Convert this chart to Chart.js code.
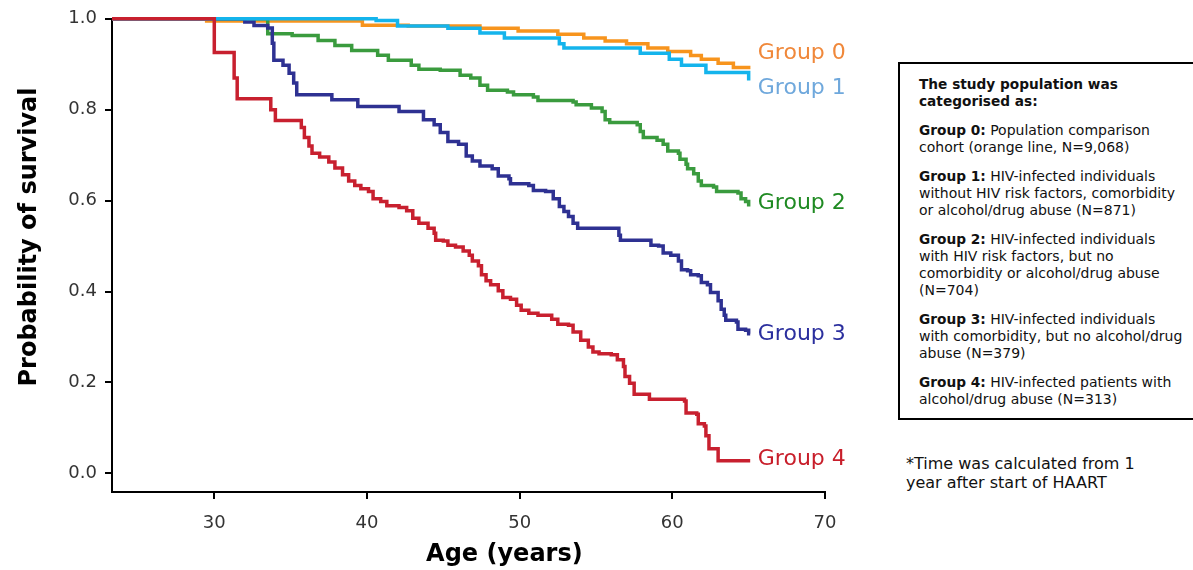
<!DOCTYPE html>
<html>
<head>
<meta charset="utf-8">
<script src="https://cdn.jsdelivr.net/npm/chart.js@4.4.1/dist/chart.umd.min.js"></script>
<style>
  html, body { margin: 0; padding: 0; background: #fff; }
  body { width: 1193px; height: 570px; position: relative; overflow: hidden; font-family: "DejaVu Sans", Verdana, sans-serif; }
  #chartWrap { position: absolute; left: 0; top: 0; width: 880px; height: 570px; }
  .key {
    position: absolute; left: 898px; top: 62px; width: 330px; height: 358px;
    border: 2px solid #000; box-sizing: border-box; padding: 12px 0 0 19px;
    font-size: 14px; line-height: 17px; color: #111; white-space: nowrap;
  }
  .key p { margin: 0 0 12px 0; }
  .key b { font-weight: bold; font-size: 13.7px; }
  .note { position: absolute; left: 906px; top: 454px; font-size: 16px; line-height: 19px; color: #111; white-space: nowrap; }
</style>
</head>
<body>
<div id="chartWrap"><canvas id="kmChart" width="880" height="570"></canvas></div>

<div class="key">
  <p><b>The study population was<br>categorised as:</b></p>
  <p><b>Group 0:</b> Population comparison<br>cohort (orange line, N=9,068)</p>
  <p><b>Group 1:</b> HIV-infected individuals<br>without HIV risk factors, comorbidity<br>or alcohol/drug abuse (N=871)</p>
  <p><b>Group 2:</b> HIV-infected individuals<br>with HIV risk factors, but no<br>comorbidity or alcohol/drug abuse<br>(N=704)</p>
  <p><b>Group 3:</b> HIV-infected individuals<br>with comorbidity, but no alcohol/drug<br>abuse (N=379)</p>
  <p><b>Group 4:</b> HIV-infected patients with<br>alcohol/drug abuse (N=313)</p>
</div>
<div class="note">*Time was calculated from 1<br>year after start of HAART</div>

<script>
// Datos (edad en años, probabilidad de supervivencia)
const groupNames = ['Group 0', 'Group 1', 'Group 2', 'Group 3', 'Group 4'];

const group0Age  = [23.3, 29.5, 39.7, 42.7, 47.4, 49.9, 52.5, 54.2, 55.6, 57.0, 58.4, 59.7, 61.2, 61.9, 63.0, 64.0, 65.0];
const group0Surv = [1.0, 0.995, 0.986, 0.984, 0.979, 0.973, 0.966, 0.958, 0.951, 0.945, 0.936, 0.928, 0.919, 0.911, 0.902, 0.893, 0.889];

const group1Age  = [23.3, 40.6, 42.0, 45.3, 47.4, 49.0, 52.6, 52.9, 57.9, 59.8, 60.6, 62.2, 65.0];
const group1Surv = [1.0, 0.996, 0.984, 0.979, 0.969, 0.958, 0.945, 0.936, 0.924, 0.911, 0.898, 0.882, 0.864];

const group2Age  = [23.3, 33.5, 35.1, 36.8, 37.9, 39.0, 40.7, 41.4, 42.9, 43.4, 44.8, 46.1, 46.8, 47.4, 47.9,
                    49.2, 49.6, 50.9, 51.2, 53.5, 53.7, 54.7, 55.4, 55.6, 55.9, 57.7, 57.9, 58.1, 59.0, 59.4,
                    59.7, 60.4, 60.5, 60.9, 61.0, 61.4, 61.7, 61.9, 62.7, 62.9, 64.3, 64.5, 64.8, 65.0];
const group2Surv = [1.0, 0.967, 0.963, 0.952, 0.941, 0.930, 0.920, 0.909, 0.898, 0.889, 0.887, 0.876, 0.870, 0.854, 0.843,
                    0.839, 0.833, 0.828, 0.820, 0.817, 0.811, 0.804, 0.796, 0.778, 0.772, 0.767, 0.752, 0.739, 0.733, 0.724,
                    0.709, 0.704, 0.691, 0.680, 0.670, 0.659, 0.643, 0.633, 0.630, 0.620, 0.617, 0.604, 0.598, 0.587];

const group3Age  = [23.3, 32.0, 32.6, 33.5, 33.8, 33.9, 34.5, 34.9, 35.2, 35.4, 37.7, 39.4, 42.1, 43.7, 44.4,
                    44.8, 45.3, 46.0, 46.5, 46.9, 47.4, 48.2, 48.6, 49.3, 49.4, 50.6, 50.9, 51.7, 52.2, 52.6,
                    52.9, 53.2, 53.5, 53.8, 56.5, 56.6, 58.6, 59.1, 59.4, 59.9, 60.4, 60.6, 61.0, 61.2, 61.7,
                    61.9, 62.3, 62.5, 63.0, 63.2, 63.4, 63.5, 64.2, 64.3, 64.8, 65.0, 65.1];
const group3Surv = [1.0, 0.993, 0.985, 0.980, 0.946, 0.909, 0.898, 0.880, 0.859, 0.833, 0.822, 0.807, 0.796, 0.778, 0.767,
                    0.750, 0.730, 0.724, 0.698, 0.687, 0.676, 0.670, 0.654, 0.648, 0.637, 0.633, 0.622, 0.620, 0.604, 0.587,
                    0.576, 0.565, 0.550, 0.539, 0.524, 0.513, 0.502, 0.500, 0.485, 0.480, 0.467, 0.448, 0.446, 0.437, 0.435,
                    0.420, 0.415, 0.398, 0.380, 0.361, 0.348, 0.337, 0.333, 0.317, 0.315, 0.307, 0.307];

const group4Age  = [23.3, 30.0, 31.3, 31.5, 33.7, 34.0, 35.7, 35.9, 36.2, 36.4, 36.9, 37.5, 37.9, 38.4, 38.8,
                    39.2, 39.6, 40.1, 40.4, 40.9, 41.3, 42.1, 42.6, 43.0, 43.4, 44.0, 44.4, 44.5, 45.0, 45.3,
                    45.8, 46.3, 46.7, 46.9, 47.3, 47.5, 47.8, 48.1, 48.6, 48.9, 49.4, 49.8, 50.1, 50.6, 51.2,
                    52.1, 52.5, 53.2, 53.5, 54.0, 54.5, 54.8, 55.2, 56.0, 56.4, 56.8, 56.9, 57.2, 57.5, 58.5,
                    60.8, 60.9, 61.6, 61.7, 62.1, 62.2, 62.4, 63.0, 65.1];
const group4Surv = [1.0, 0.926, 0.870, 0.824, 0.800, 0.776, 0.761, 0.739, 0.720, 0.704, 0.696, 0.685, 0.672, 0.657, 0.643,
                    0.633, 0.626, 0.620, 0.604, 0.598, 0.589, 0.585, 0.578, 0.561, 0.550, 0.539, 0.528, 0.513, 0.511, 0.502,
                    0.498, 0.489, 0.480, 0.467, 0.457, 0.437, 0.424, 0.415, 0.402, 0.387, 0.383, 0.370, 0.359, 0.352, 0.348,
                    0.339, 0.328, 0.326, 0.311, 0.293, 0.278, 0.267, 0.263, 0.261, 0.250, 0.235, 0.213, 0.198, 0.174, 0.163,
                    0.159, 0.133, 0.130, 0.109, 0.104, 0.083, 0.054, 0.028, 0.028];

const xTicks = [30, 40, 50, 60, 70];
const yTicks = [0.0, 0.2, 0.4, 0.6, 0.8, 1.0];

// Colores de las curvas y de las etiquetas
const lineColors  = ['#f7941d', '#14b4ec', '#3a9b3e', '#2e3192', '#c8202f'];
const labelColors = ['#f0883a', '#6fa8dc', '#1f8a22', '#2b2f9e', '#c81e2a'];
// Orden de dibujo: el rojo encima, luego el celeste
const drawOrder = [4, 1, 3, 2, 0];

const FONT = '"DejaVu Sans", Verdana, sans-serif';

function toPoints(ages, surv) {
    return ages.map((a, i) => ({ x: a, y: surv[i] }));
}

const seriesAges = [group0Age, group1Age, group2Age, group3Age, group4Age];
const seriesSurv = [group0Surv, group1Surv, group2Surv, group3Surv, group4Surv];

// Etiquetas "Group N" al final de cada curva y títulos de los ejes
const groupLabelsPlugin = {
    id: 'groupLabels',
    afterDatasetsDraw(chart) {
        const ctx = chart.ctx;
        const xs = chart.scales.x, ys = chart.scales.y;
        const labelAge = 65.6;
        const labelLevel = [0.925, 0.848, 0.595, 0.307, 0.030];
        ctx.save();
        ctx.font = '22px ' + FONT;
        ctx.textBaseline = 'middle';
        ctx.textAlign = 'left';
        groupNames.forEach((name, i) => {
            ctx.fillStyle = labelColors[i];
            ctx.fillText(name, xs.getPixelForValue(labelAge), ys.getPixelForValue(labelLevel[i]));
        });

        // Título eje X
        ctx.fillStyle = '#000';
        ctx.textAlign = 'center';
        ctx.font = 'bold 24px ' + FONT;
        ctx.fillText('Age (years)', xs.getPixelForValue(49.0), 555);

        // Título eje Y (rotado)
        ctx.translate(30, ys.getPixelForValue(0.52));
        ctx.rotate(-Math.PI / 2);
        ctx.fillText('Probability of survival', 0, 0);
        ctx.restore();
    }
};

function initializeSurvivalChart() {
    const ctx = document.getElementById('kmChart');
    if (!ctx) return;

    new Chart(ctx, {
        type: 'line',
        data: {
            datasets: groupNames.map((name, i) => ({
                label: name,
                data: toPoints(seriesAges[i], seriesSurv[i]),
                borderColor: lineColors[i],
                borderWidth: 3.5,
                stepped: 'before',
                pointRadius: 0,
                fill: false,
                clip: false,
                order: drawOrder[i]
            }))
        },
        options: {
            responsive: false,
            animation: false,
            layout: { padding: { top: 12, right: 55, left: 0, bottom: 0 } },
            plugins: { legend: { display: false }, tooltip: { enabled: false } },
            scales: {
                x: {
                    type: 'linear',
                    min: 23.3,
                    max: 70,
                    afterBuildTicks: s => { s.ticks = xTicks.map(v => ({ value: v })); },
                    afterFit: s => { s.height = 78; },
                    border: { color: '#000', width: 2 },
                    grid: { drawOnChartArea: false, drawTicks: true, tickLength: 7, color: '#000', lineWidth: 2 },
                    ticks: { color: '#333', padding: 14, font: { family: FONT, size: 18 } }
                },
                y: {
                    type: 'linear',
                    min: -0.041,
                    max: 1.0,
                    afterBuildTicks: s => { s.ticks = yTicks.map(v => ({ value: v })); },
                    afterFit: s => { s.width = 112; },
                    border: { color: '#000', width: 2 },
                    grid: { drawOnChartArea: false, drawTicks: true, tickLength: 7, color: '#000', lineWidth: 2 },
                    ticks: {
                        color: '#333', padding: 8,
                        font: { family: FONT, size: 18 },
                        callback: v => v.toFixed(1)
                    }
                }
            }
        },
        plugins: [groupLabelsPlugin]
    });
}

document.addEventListener('DOMContentLoaded', initializeSurvivalChart);
</script>
</body>
</html>
